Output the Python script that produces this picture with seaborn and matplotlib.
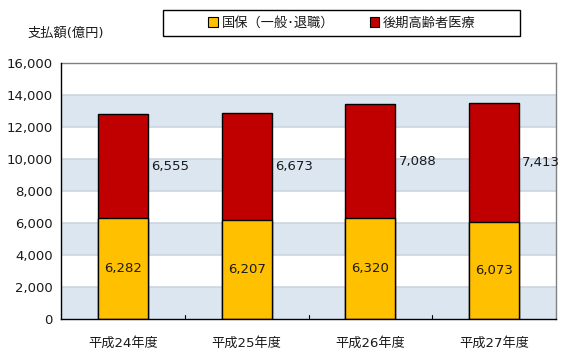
import matplotlib
matplotlib.use("Agg")
import matplotlib.pyplot as plt
import seaborn as sns
import pandas as pd
from matplotlib.patches import Patch, Rectangle
from matplotlib.ticker import FuncFormatter, MultipleLocator

sns.set_theme(style="white")
plt.rcParams['font.family'] = ['DejaVu Sans', 'Noto Sans CJK JP']

categories = ["平成24年度", "平成25年度", "平成26年度", "平成27年度"]
kokuho = [6282, 6207, 6320, 6073]
kouki = [6555, 6673, 7088, 7413]
series_names = ["国保（一般･退職）", "後期高齢者医療"]
ylabel = "支払額(億円)"

yellow = "#FFC000"
red = "#C00000"

fig = plt.figure(figsize=(5.7, 3.57), dpi=100)
ax = fig.add_axes([61/570, 1-319/357, 495/570, 256/357])

totals = [a + b for a, b in zip(kokuho, kouki)]
df_tot = pd.DataFrame({"cat": categories, "val": totals})
df_bot = pd.DataFrame({"cat": categories, "val": kokuho})

# background bands
for lo in range(0, 16000, 4000):
    ax.axhspan(lo, lo + 2000, color="#DCE6F1", zorder=0, lw=0)
for y in range(2000, 16000, 2000):
    ax.axhline(y, color="#CDD5E0", lw=1.2, zorder=0.5)

sns.barplot(data=df_tot, x="cat", y="val", color=red, width=0.405,
            edgecolor="black", linewidth=1.0, saturation=1, ax=ax, zorder=2)
sns.barplot(data=df_bot, x="cat", y="val", color=yellow, width=0.405,
            edgecolor="black", linewidth=1.0, saturation=1, ax=ax, zorder=3)

bars_top = list(ax.containers[0])
bars_bot = list(ax.containers[1])
for b, v in zip(bars_bot, kokuho):
    ax.text(b.get_x() + b.get_width()/2, v/2, f"{v:,}", ha="center", va="center",
            fontsize=9.5, color="#1a1a1a", zorder=5)
for b, lo, v in zip(bars_top, kokuho, kouki):
    ax.text(b.get_x() + b.get_width() + 0.025, lo + v/2, f"{v:,}", ha="left", va="center",
            fontsize=9.5, color="#1a1a1a", zorder=5)

ax.set_ylim(0, 16000)
ax.set_xlim(-0.5, 3.5)
ax.yaxis.set_major_locator(MultipleLocator(2000))
ax.yaxis.set_major_formatter(FuncFormatter(lambda v, p: f"{int(v):,}"))
ax.set_xlabel("")
ax.set_ylabel("")
ax.tick_params(axis="y", labelsize=9.5, length=0, pad=6, labelcolor="#1a1a1a")
ax.tick_params(axis="x", labelsize=9.5, length=0, pad=13, labelcolor="#1a1a1a")
for xs in [0.5, 1.5, 2.5]:
    ax.plot([xs, xs], [0, 250], color="black", lw=0.8, zorder=4, clip_on=False)

for s in ["left", "bottom"]:
    ax.spines[s].set_color("black")
    ax.spines[s].set_linewidth(1.0)
for s in ["top", "right"]:
    ax.spines[s].set_color("#808080")
    ax.spines[s].set_linewidth(1.0)
ax.spines["left"].set_zorder(6)
ax.spines["bottom"].set_zorder(6)

fig.text(27/570, 1-33/357, ylabel, fontsize=9.5, ha="left", va="center", color="#1a1a1a")

# legend box
fig.patches.append(Rectangle((163/570, 1-36/357), 357/570, 26/357, transform=fig.transFigure,
                             facecolor="white", edgecolor="black", lw=1.0))
handles = [Patch(facecolor=yellow, edgecolor="black", lw=0.8),
           Patch(facecolor=red, edgecolor="black", lw=0.8)]
leg = fig.legend(handles, series_names, loc="center", bbox_to_anchor=(342/570, 1-23/357),
                 ncol=2, fontsize=9.5, frameon=False,
                 handlelength=0.7, handleheight=0.7, handletextpad=0.3, columnspacing=2.7,
                 borderpad=0, borderaxespad=0)
for t in leg.get_texts():
    t.set_color("#1a1a1a")

fig.savefig("out.png", dpi=100)
